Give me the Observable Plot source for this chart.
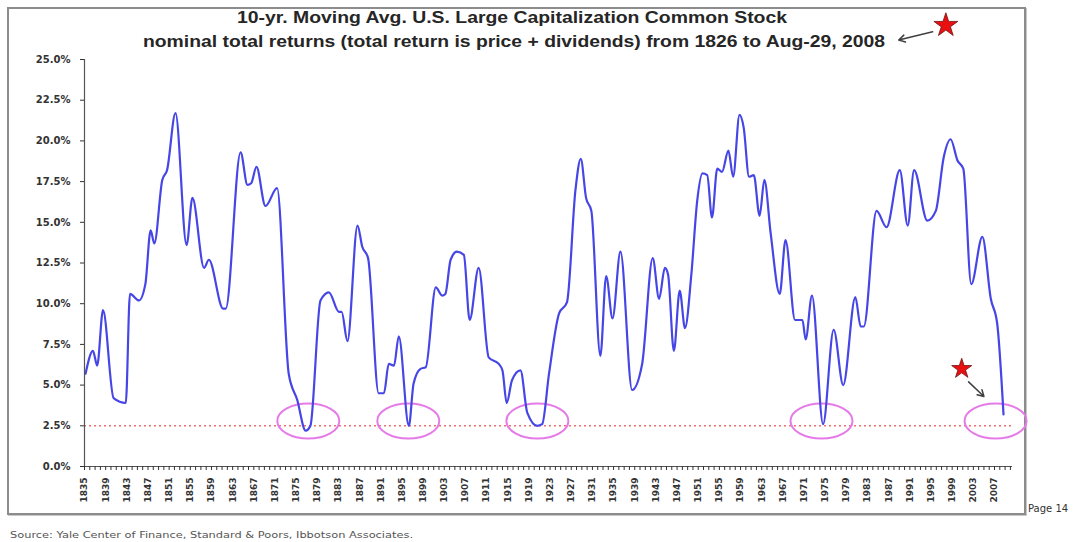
<!DOCTYPE html>
<html>
<head>
<meta charset="utf-8">
<script src="https://cdn.jsdelivr.net/npm/d3@7"></script>
<script src="https://cdn.jsdelivr.net/npm/@observablehq/plot@0.6"></script>
<style>
  html, body { margin: 0; padding: 0; background: #fff; }
  #wrap { position: relative; width: 1083px; height: 542px; overflow: hidden; background: #fff; }
  #chart { position: absolute; left: 0; top: 0; }
  #frame { position: absolute; left: 7px; top: 7px; width: 1015px; height: 504px; border: 2px solid #8c8c8c; box-shadow: 1px 1px 0 #c8c8c8; }
  .txt { position: absolute; white-space: nowrap; transform-origin: left center; }
  .title { font-family: "Liberation Sans Narrow", "Liberation Sans", Arial, sans-serif; font-weight: bold; font-size: 16px; line-height: 18px; color: #262626; }
  #chart svg text { font-weight: bold; }
</style>
</head>
<body>
<div id="wrap">
  <div id="frame"></div>
  <div id="chart"></div>
  <div id="t1" class="txt title" style="top:9px">10-yr. Moving Avg. U.S. Large Capitalization Common Stock</div>
  <div id="t2" class="txt title" style="top:33px">nominal total returns (total return is price + dividends) from 1826 to Aug-29, 2008</div>
  <div id="page" class="txt" style="left:1028px; top:503px; font-family:'DejaVu Sans'; font-size:10px; color:#333;">Page 14</div>
  <div id="src" class="txt" style="left:10px; top:529px; font-family:'DejaVu Sans'; font-size:9.5px; color:#555;">Source: Yale Center of Finance, Standard &amp; Poors, Ibbotson Associates.</div>
</div>
<script>
// 10-yr moving average nominal total return (%)
const years = [
  1835.2, 1836.6, 1837.4, 1838.5, 1840.5, 1842.8, 1843.6, 1845.3, 1846.5, 1847.5,
  1848.2, 1849.7, 1850.6, 1852.2, 1854.3, 1855.4, 1857.6, 1858.5, 1861.2, 1861.7,
  1864.5, 1865.8, 1866.5, 1867.5, 1869.2, 1871.4, 1873.6, 1875.2, 1876.8, 1877.7,
  1879.6, 1881.2, 1883.1, 1883.6, 1884.7, 1886.6, 1887.5, 1888.6, 1890.6, 1891.6,
  1892.5, 1893.5, 1894.4, 1896.3, 1897.2, 1898.5, 1899.5, 1901.4, 1902.6, 1903.2,
  1904.2, 1905.4, 1906.7, 1907.8, 1909.5, 1911.4, 1913.3, 1914.0, 1914.8, 1915.8,
  1917.4, 1918.7, 1920.6, 1921.5, 1922.8, 1924.7, 1926.2, 1927.8, 1928.8, 1929.8,
  1930.8, 1932.5, 1933.6, 1934.8, 1936.3, 1938.5, 1940.4, 1942.4, 1943.6, 1944.7,
  1945.3, 1946.4, 1947.5, 1948.5, 1949.7, 1950.8, 1951.8, 1952.7, 1953.6, 1954.6,
  1955.5, 1956.7, 1957.6, 1958.8, 1959.6, 1960.6, 1961.5, 1962.6, 1963.5, 1964.7,
  1966.4, 1967.5, 1969.3, 1970.7, 1971.3, 1972.5, 1974.6, 1976.6, 1978.4, 1980.7,
  1981.7, 1982.3, 1984.7, 1986.6, 1989.1, 1990.6, 1991.8, 1994.3, 1995.9, 1997.4,
  1998.7, 2000.0, 2001.1, 2002.6, 2004.7, 2006.3, 2007.5, 2008.7
];
const values = [
  5.7, 7.1, 6.2, 9.6, 4.2, 3.9, 10.6, 10.2, 11.2, 14.5,
  13.7, 17.6, 18.2, 21.7, 13.6, 16.5, 12.2, 12.7, 9.7, 9.7,
  19.3, 17.3, 17.4, 18.4, 16.0, 17.1, 5.7, 4.1, 2.2, 2.5,
  10.2, 10.7, 9.5, 9.5, 7.7, 14.8, 13.5, 12.8, 4.5, 4.5,
  6.3, 6.2, 8.0, 2.5, 5.1, 6.0, 6.1, 11.0, 10.5, 10.6,
  12.7, 13.2, 13.0, 9.0, 12.2, 6.7, 6.3, 5.9, 3.9, 5.3,
  5.9, 3.3, 2.5, 2.6, 5.7, 9.4, 10.1, 17.0, 18.9, 16.5,
  15.7, 6.8, 11.7, 9.1, 13.2, 4.7, 6.3, 12.8, 10.3, 12.2,
  11.8, 7.1, 10.8, 8.5, 11.8, 16.3, 18.0, 17.9, 15.3, 18.3,
  18.1, 19.4, 17.8, 21.6, 20.8, 17.8, 17.9, 15.4, 17.6, 14.3,
  10.6, 13.9, 9.0, 9.0, 7.8, 10.5, 2.6, 8.4, 5.0, 10.4,
  8.6, 8.6, 15.7, 14.7, 18.2, 14.8, 18.2, 15.1, 15.7, 19.0,
  20.1, 18.8, 18.3, 11.2, 14.1, 10.3, 8.8, 3.2
];

// axis ticks
const yTicks = [0, 2.5, 5, 7.5, 10, 12.5, 15, 17.5, 20, 22.5, 25];
const xLabelYears = [1835, 1839, 1843, 1847, 1851, 1855, 1859, 1863, 1867, 1871, 1875,
  1879, 1883, 1887, 1891, 1895, 1899, 1903, 1907, 1911, 1915, 1919, 1923, 1927, 1931,
  1935, 1939, 1943, 1947, 1951, 1955, 1959, 1963, 1967, 1971, 1975, 1979, 1983, 1987,
  1991, 1995, 1999, 2003, 2007];
const xMinorStart = 1835, xMinorEnd = 2010;

// annotations
const floorLevel = 2.5;
const circledYears = [1877.3, 1896.2, 1920.6, 1974.3, 2007.2];
const circledLevel = 2.8;
const starYears = [1997.8, 2000.8];
const starValues = [27.1, 6.0];
const starSizes = [7.5, 6.3];
const arrowFromYears = [1995.3, 2002.1];
const arrowFromValues = [26.7, 5.2];
const arrowToYears = [1988.9, 2005.0];
const arrowToValues = [26.2, 4.3];

const data = years.map((year, i) => ({year, value: values[i]}));
const circles = circledYears.map(year => ({year, value: circledLevel}));
const stars = starYears.map((year, i) => ({year, value: starValues[i], r: starSizes[i]}));
const arrows = arrowFromYears.map((y1, i) => ({x1: y1, y1: arrowFromValues[i], x2: arrowToYears[i], y2: arrowToValues[i]}));
const minorTicks = d3.range(xMinorStart, xMinorEnd + 1);

const ellipseSymbol = {
  draw(ctx) {
    const rx = 31, ry = 17.5, k = 0.5523;
    ctx.moveTo(rx, 0);
    ctx.bezierCurveTo(rx, ry * k, rx * k, ry, 0, ry);
    ctx.bezierCurveTo(-rx * k, ry, -rx, ry * k, -rx, 0);
    ctx.bezierCurveTo(-rx, -ry * k, -rx * k, -ry, 0, -ry);
    ctx.bezierCurveTo(rx * k, -ry, rx, -ry * k, rx, 0);
    ctx.closePath();
  }
};

const chart = Plot.plot({
  width: 1083,
  height: 542,
  marginLeft: 84,
  marginRight: 71,
  marginTop: 59,
  marginBottom: 76,
  style: {fontFamily: "DejaVu Sans", fontSize: "10px", color: "#333", background: "transparent"},
  x: {domain: [1835, 2010.4]},
  y: {domain: [0, 25]},
  r: {type: "identity"},
  marks: [
    Plot.ruleY([floorLevel], {stroke: "#f07070", strokeWidth: 1.6, strokeDasharray: "2,3"}),
    Plot.dot(circles, {x: "year", y: "value", symbol: ellipseSymbol, r: 1, fill: "none", stroke: "#e57ae8", strokeWidth: 2}),
    Plot.line(data, {x: "year", y: "value", stroke: "#4646e6", strokeWidth: 2.2, curve: "monotone-x"}),
    Plot.arrow(arrows, {x1: "x1", y1: "y1", x2: "x2", y2: "y2", stroke: "#404040", strokeWidth: 1.5, headLength: 7, bend: 0}),
    Plot.dot(stars, {x: "year", y: "value", r: "r", symbol: "star", fill: "#e81010", stroke: "#701010", strokeWidth: 0.8}),
    Plot.ruleX([1835], {stroke: "#555", strokeWidth: 1.2}),
    Plot.ruleY([0], {stroke: "#555", strokeWidth: 1.2}),
    Plot.axisY({ticks: yTicks, tickFormat: d => d.toFixed(1) + "%", tickSize: 4, tickPadding: 10, label: null, fontSize: 10}),
    Plot.axisX({ticks: minorTicks, tickFormat: () => "", tickSize: 4, label: null}),
    Plot.axisX({ticks: xLabelYears, tickFormat: d => String(d), tickSize: 0, tickPadding: 11, tickRotate: -90, label: null, fontSize: 9})
  ]
});
chart.style.display = "block";
document.getElementById("chart").appendChild(chart);

function fit(id, left, width) {
  const el = document.getElementById(id);
  const w = el.getBoundingClientRect().width;
  el.style.left = left + "px";
  el.style.transform = `scaleX(${width / w})`;
}
fit("t1", 237, 550);
fit("t2", 143, 742);
fit("src", 10, 403);
</script>
</body>
</html>
